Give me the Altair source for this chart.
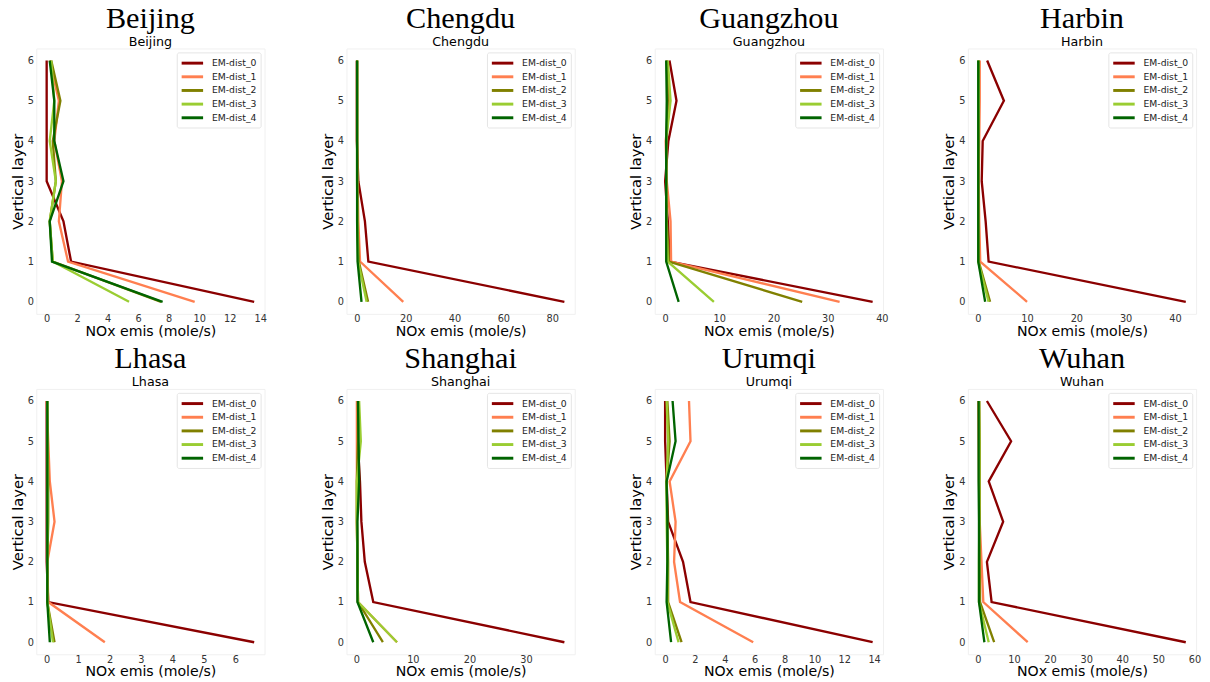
import altair as alt
import pandas as pd

cities = ["Beijing", "Chengdu", "Guangzhou", "Harbin", "Lhasa", "Shanghai", "Urumqi", "Wuhan"]
series = ["EM-dist_0", "EM-dist_1", "EM-dist_2", "EM-dist_3", "EM-dist_4"]
layers = [0, 1, 2, 3, 4, 5, 6]
colors = ["#8B0000", "#FF7F50", "#808000", "#9ACD32", "#006400"]

# values by layer 0..6 for each EM-dist series
beijing = [
    [13.6, 1.6, 1.1, 0.0, 0.0, 0.0, 0.0],
    [9.7, 1.4, 0.8, 1.0, 0.5, 0.8, 0.2],
    [7.5, 0.4, 0.2, 0.6, 0.4, 0.9, 0.3],
    [5.4, 0.4, 0.2, 0.6, 0.2, 0.5, 0.3],
    [7.6, 0.35, 0.2, 1.1, 0.5, 0.5, 0.2],
]
chengdu = [
    [85.0, 4.7, 3.3, 0.6, 0.0, 0.0, 0.0],
    [19.0, 1.3, 0.6, 0.3, 0.1, 0.1, 0.1],
    [4.6, 0.8, 0.2, 0.1, 0.1, 0.1, 0.1],
    [4.0, 0.5, 0.2, 0.1, 0.1, 0.1, 0.1],
    [1.9, 0.3, 0.1, 0.1, 0.1, 0.1, 0.1],
]
guangzhou = [
    [38.3, 0.9, 0.5, 0.0, 0.6, 2.1, 0.8],
    [32.2, 1.1, 1.0, 0.3, 0.1, 0.9, 0.3],
    [25.3, 0.7, 0.3, 0.2, 0.2, 0.5, 0.3],
    [9.0, 0.5, 0.2, 0.2, 0.2, 1.0, 0.5],
    [2.5, 0.2, 0.2, 0.2, 0.2, 0.3, 0.2],
]
harbin = [
    [42.2, 2.2, 1.6, 0.8, 1.0, 5.3, 1.9],
    [10.0, 0.5, 0.3, 0.2, 0.3, 0.4, 0.4],
    [2.5, 0.2, 0.1, 0.1, 0.2, 0.2, 0.2],
    [2.2, 0.1, 0.1, 0.1, 0.1, 0.2, 0.1],
    [1.5, 0.1, 0.1, 0.1, 0.1, 0.1, 0.1],
]
lhasa = [
    [6.6, 0.05, 0.0, 0.0, 0.0, 0.0, 0.0],
    [1.85, 0.05, 0.02, 0.25, 0.1, 0.05, 0.0],
    [0.25, 0.02, 0.02, 0.05, 0.05, 0.03, 0.02],
    [0.2, 0.02, 0.02, 0.03, 0.03, 0.02, 0.02],
    [0.1, 0.02, 0.02, 0.02, 0.02, 0.02, 0.02],
]
shanghai = [
    [36.8, 3.0, 1.5, 0.9, 0.65, 0.25, 0.15],
    [7.2, 0.3, 0.2, 0.1, 0.1, 0.1, 0.1],
    [4.7, 0.3, 0.2, 0.1, 0.1, 0.3, 0.3],
    [7.2, 0.3, 0.2, 0.1, 0.1, 0.8, 0.5],
    [3.0, 0.2, 0.2, 0.2, 0.5, 0.4, 0.3],
]
urumqi = [
    [13.9, 1.7, 1.2, 0.2, 0.1, 0.0, 0.0],
    [5.9, 1.0, 0.6, 0.7, 0.3, 1.7, 1.6],
    [1.1, 0.2, 0.2, 0.15, 0.1, 0.3, 0.15],
    [0.9, 0.15, 0.15, 0.1, 0.1, 0.2, 0.1],
    [0.4, 0.1, 0.15, 0.15, 0.1, 0.7, 0.5],
]
wuhan = [
    [57.6, 3.8, 2.5, 7.0, 3.0, 9.2, 2.5],
    [13.8, 1.5, 1.0, 0.5, 0.3, 0.2, 0.1],
    [4.5, 0.6, 0.5, 0.5, 0.5, 0.5, 0.4],
    [3.0, 0.3, 0.3, 0.4, 0.4, 0.4, 0.3],
    [1.8, 0.3, 0.3, 0.3, 0.2, 0.2, 0.2],
]
city_values = [beijing, chengdu, guangzhou, harbin, lhasa, shanghai, urumqi, wuhan]

x_ticks = [
    [0, 2, 4, 6, 8, 10, 12, 14],
    [0, 20, 40, 60, 80],
    [0, 10, 20, 30, 40],
    [0, 10, 20, 30, 40],
    [0, 1, 2, 3, 4, 5, 6],
    [0, 10, 20, 30],
    [0, 2, 4, 6, 8, 10, 12, 14],
    [0, 10, 20, 30, 40, 50, 60],
]

panels = []
for city, vals, ticks in zip(cities, city_values, x_ticks):
    rows = []
    for s, arr in zip(series, vals):
        for lay, v in zip(layers, arr):
            rows.append({"series": s, "layer": lay, "value": v})
    df = pd.DataFrame(rows)
    lo = min(min(a) for a in vals)
    hi = max(max(a) for a in vals)
    pad = 0.05 * (hi - lo)
    ch = (
        alt.Chart(df)
        .mark_line(strokeWidth=2.4)
        .encode(
            x=alt.X(
                "value:Q",
                title="NOx emis (mole/s)",
                scale=alt.Scale(domain=[lo - pad, hi + pad], nice=False, zero=False),
                axis=alt.Axis(values=ticks, labelPadding=0, titlePadding=1, titleFontSize=14.5),
            ),
            y=alt.Y(
                "layer:Q",
                title="Vertical layer",
                scale=alt.Scale(domain=[-0.3, 6.3], nice=False, zero=False),
                axis=alt.Axis(values=layers, format="d", labelPadding=3, titlePadding=2, titleFontSize=15),
            ),
            color=alt.Color(
                "series:N",
                scale=alt.Scale(domain=series, range=colors),
                legend=alt.Legend(
                    orient="top-right",
                    title=None,
                    symbolType="M-2,0H2",
                    symbolSize=121,
                    symbolStrokeWidth=3,
                    symbolOffset=5,
                    labelOffset=13,
                    labelFontSize=9.5,
                    labelFont="DejaVu Sans",
                    labelColor="#222",
                    fillColor="white",
                    strokeColor="#e4e4e4",
                    padding=4,
                    rowPadding=1,
                    offset=4,
                    cornerRadius=2,
                ),
            ),
            order="layer:Q",
        )
        .properties(
            width=234,
            height=272,
            title=alt.TitleParams(
                text=city,
                subtitle=city,
                font="Liberation Serif",
                fontSize=31,
                fontWeight="normal",
                color="black",
                subtitleFont="DejaVu Sans",
                subtitleFontSize=13,
                subtitleColor="black",
                subtitlePadding=1,
                offset=-1,
                anchor="middle",
            ),
        )
    )
    panels.append(ch)

chart = (
    alt.concat(*panels, columns=4, spacing={"row": 5, "column": 54})
    .resolve_scale(x="independent", y="independent", color="shared")
    .resolve_legend(color="independent")
    .properties(padding={"left": 2, "top": -14, "right": 0, "bottom": 0})
    .configure_view(stroke="#f0f0f0")
    .configure_axis(
        grid=False,
        domain=False,
        ticks=False,
        labelFont="DejaVu Sans",
        labelFontSize=10,
        labelColor="#333",
        titleFont="DejaVu Sans",
        titleFontSize=14,
        titleFontWeight="normal",
        titleColor="black",
    )
)

chart.save("out.html", embed_options={"renderer": "svg", "actions": False})
